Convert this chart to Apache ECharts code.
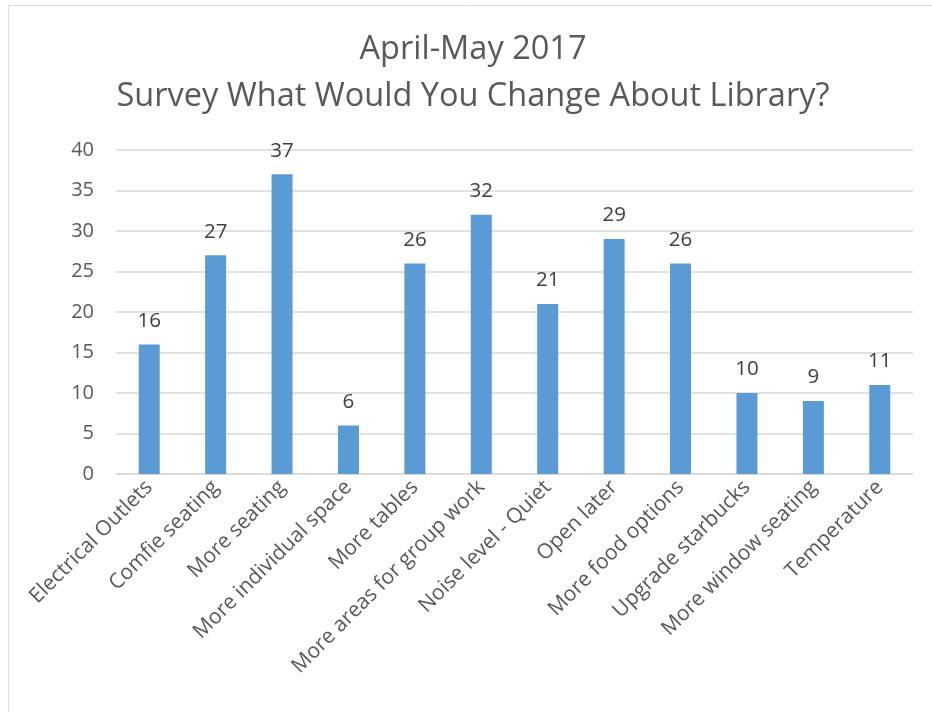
<!DOCTYPE html>
<html>
<head>
<meta charset="utf-8">
<script src="https://cdn.jsdelivr.net/npm/echarts@6/dist/echarts.min.js"></script>
<style>
  html, body { margin: 0; padding: 0; background: #fff; }
  #chart { width: 932px; height: 712px; }
</style>
</head>
<body>
<div id="chart"></div>
<script>
// Survey responses: what students would change about the library
const categories = [
  'Electrical Outlets', 'Comfie seating', 'More seating', 'More individual space',
  'More tables', 'More areas for group work', 'Noise level - Quiet', 'Open later',
  'More food options', 'Upgrade starbucks', 'More window seating', 'Temperature'
];
const responses = [16, 27, 37, 6, 26, 32, 21, 29, 26, 10, 9, 11];
const titleLines = ['April-May 2017', 'Survey What Would You Change About Library?'];

const FONT = '"Open Sans", "Liberation Sans", sans-serif';
const chart = echarts.init(document.getElementById('chart'), null, { renderer: 'canvas' });

// Two centred title lines, placed over the middle of the chart frame
const titleGraphics = titleLines.map((line, i) => ({
  type: 'text',
  x: 473,
  y: 50 + i * 47,
  silent: true,
  style: {
    text: line,
    align: 'center',
    verticalAlign: 'middle',
    fontFamily: FONT,
    fontSize: 32.5,
    fill: '#595959'
  }
}));

chart.setOption({
  animation: false,
  backgroundColor: '#fff',
  graphic: [{
    type: 'rect',
    shape: { x: 8.5, y: 5.5, width: 940, height: 720 },
    style: { fill: 'none', stroke: '#d9d9d9', lineWidth: 1 },
    silent: true
  }].concat(titleGraphics),
  grid: { left: 116, right: 19, top: 150, bottom: 238, containLabel: false },
  xAxis: {
    type: 'category',
    data: categories,
    axisLine: { lineStyle: { color: '#d9d9d9', width: 1.5 } },
    axisTick: { show: false },
    axisLabel: {
      rotate: 45,
      interval: 0,
      margin: 10,
      fontFamily: FONT,
      fontSize: 21,
      color: '#595959'
    }
  },
  yAxis: {
    type: 'value',
    min: 0,
    max: 40,
    interval: 5,
    axisLine: { show: false },
    axisTick: { show: false },
    splitLine: { lineStyle: { color: '#d9d9d9', width: 1.5 } },
    axisLabel: {
      margin: 22,
      fontFamily: FONT,
      fontSize: 20,
      color: '#595959'
    }
  },
  series: [{
    type: 'bar',
    data: responses,
    barWidth: 21,
    itemStyle: { color: '#5b9bd5' },
    label: {
      show: true,
      position: 'top',
      distance: 13,
      fontFamily: FONT,
      fontSize: 20.5,
      color: '#404040'
    }
  }]
});
</script>
</body>
</html>
